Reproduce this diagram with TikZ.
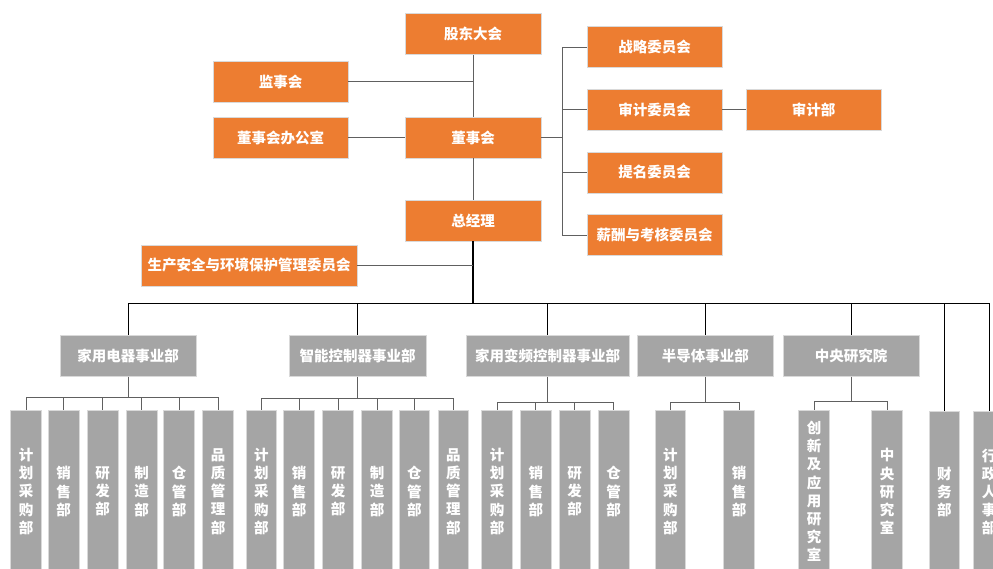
\documentclass[tikz,border=0pt]{standalone}
\usepackage{fontspec}
\newfontfamily\cjk{Noto Sans CJK SC}
\definecolor{org}{HTML}{ED7D31}
\definecolor{gry}{HTML}{A5A5A5}
\definecolor{bd}{HTML}{D9D9D9}
\definecolor{ln}{HTML}{606060}
\begin{document}
\begin{tikzpicture}[x=1pt,y=-1pt,
 box/.style={draw=bd,line width=0.8pt,text=white,font=\cjk\bfseries\fontsize{14.5}{18.2}\selectfont,inner sep=0pt,minimum height=41pt},
 obox/.style={box,fill=org,minimum width=135pt},
 gbox/.style={box,fill=gry,minimum width=135pt},
 vbox/.style={box,fill=gry,minimum width=30.8pt,minimum height=162pt,align=center},
 conn/.style={draw=ln,line width=0.8pt},
 trunk/.style={draw=black,line width=1.2pt}]
\useasboundingbox (0,0) rectangle (993,568);
\clip (0,0) rectangle (993,568);
% top level
\node[obox,minimum width=136pt] (gd) at (473,34) {股东大会};
\node[obox] (jsh) at (280.5,81.5) {监事会};
\node[obox] (bgs) at (280.5,137.5) {董事会办公室};
\node[obox,minimum width=136pt] (dsh) at (473,137.5) {董事会};
\node[obox,minimum width=136pt] (zjl) at (473,220.5) {总经理};
\node[obox,minimum width=216pt] (aq) at (249,265.5) {生产安全与环境保护管理委员会};
\node[obox] (zl) at (654.5,47) {战略委员会};
\node[obox] (sj) at (654.5,109.5) {审计委员会};
\node[obox] (tm) at (654.5,172.5) {提名委员会};
\node[obox] (xc) at (654.5,235) {薪酬与考核委员会};
\node[obox] (sjb) at (813.5,109.5) {审计部};
% top connectors
\coordinate (j1) at (473,81.5);
\coordinate (j2) at (473,265.5);
\coordinate (bus) at (473,303.5);
\coordinate (rb) at (562.7,137.5);
\draw[conn] (gd.south) -- (dsh.north);
\draw[conn] (jsh.east) -- (j1);
\draw[conn] (bgs.east) -- (dsh.west);
\draw[conn] (dsh.south) -- (zjl.north);
\draw[trunk] (zjl.south) -- (bus);
\draw[conn] (aq.east) -- (j2);
\draw[conn] (dsh.east) -- (rb);
\foreach \n in {zl,sj,tm,xc} \draw[conn] (rb) |- (\n.west);
\draw[conn] (sj.east) -- (sjb.west);
% second level
\node[gbox,minimum width=136pt] (d1) at (128,355.8) {家用电器事业部};
\node[gbox,minimum width=137pt] (d2) at (357.5,355.8) {智能控制器事业部};
\node[gbox,minimum width=163pt] (d3) at (547.7,355.8) {家用变频控制器事业部};
\node[gbox,minimum width=136pt] (d4) at (705.3,355.8) {半导体事业部};
\node[gbox,minimum width=136pt] (d5) at (851,355.8) {中央研究院};
\node[vbox] (cw) at (944.3,492) {财\\务\\部};
\node[vbox] (xz) at (989,492) {行\\政\\人\\事\\部};
\foreach \n in {d1,d2,d3,d4,d5,cw,xz} \draw[trunk,line width=1pt] (bus) -| (\n.north);
% third level
\foreach \n/\x/\t in {a1/26.2/计\\划\\采\\购\\部, a2/63.7/销\\售\\部, a3/102.7/研\\发\\部, a4/141.7/制\\造\\部, a5/179/仓\\管\\部, a6/218/品\\质\\管\\理\\部,
 b1/261.3/计\\划\\采\\购\\部, b2/299/销\\售\\部, b3/338/研\\发\\部, b4/377/制\\造\\部, b5/414.3/仓\\管\\部, b6/453.3/品\\质\\管\\理\\部,
 c1/497.1/计\\划\\采\\购\\部, c2/535.8/销\\售\\部, c3/574.6/研\\发\\部, c4/613.5/仓\\管\\部,
 e1/670.3/计\\划\\采\\购\\部, e2/739.1/销\\售\\部,
 f1/814/创\\新\\及\\应\\用\\研\\究\\室, f2/887/中\\央\\研\\究\\室}
 \node[vbox] (\n) at (\x,491.5) {\t};
\coordinate (s1) at (128,397);
\coordinate (s2) at (357.5,398);
\coordinate (s3) at (547.7,402);
\coordinate (s4) at (705.3,402);
\coordinate (s5) at (851,401.5);
\draw[conn] (d1.south) -- (s1);
\draw[conn] (d2.south) -- (s2);
\draw[conn] (d3.south) -- (s3);
\draw[conn] (d4.south) -- (s4);
\draw[conn] (d5.south) -- (s5);
\foreach \n in {a1,a2,a3,a4,a5,a6} \draw[conn] (s1) -| (\n.north);
\foreach \n in {b1,b2,b3,b4,b5,b6} \draw[conn] (s2) -| (\n.north);
\foreach \n in {c1,c2,c3,c4} \draw[conn] (s3) -| (\n.north);
\foreach \n in {e1,e2} \draw[conn] (s4) -| (\n.north);
\foreach \n in {f1,f2} \draw[conn] (s5) -| (\n.north);
\end{tikzpicture}
\end{document}
